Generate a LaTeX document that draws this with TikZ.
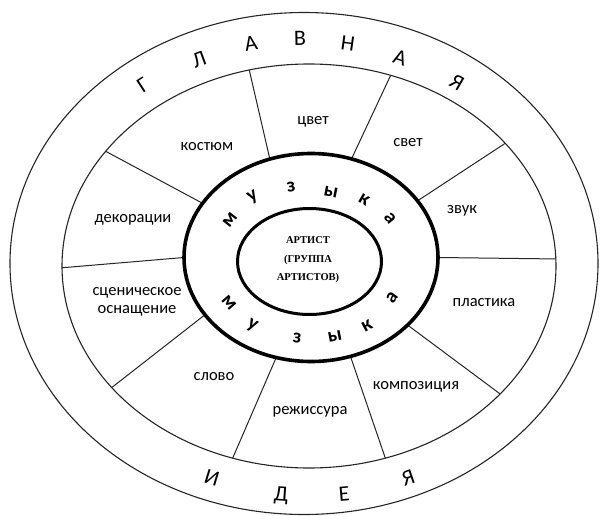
\documentclass[tikz,border=0pt]{standalone}
\usepackage{fontspec}
\setmainfont{Carlito}
\newfontfamily\timesfont{Liberation Serif}
\usetikzlibrary{calc}
\begin{document}
\begin{tikzpicture}[x=1pt,y=-1pt,
  thinring/.style={line width=1.1pt, draw=black!85},
  thickring/.style={line width=3.6pt},
  innerring/.style={line width=3pt},
  spoke/.style={line width=1pt, draw=black!85},
  lbl/.style={font=\fontsize{16.5}{18.5}\selectfont, inner sep=0pt, align=center},
  big/.style={font=\fontsize{22}{24}\selectfont, inner sep=0pt},
  mus/.style={font=\bfseries\fontsize{20}{21}\selectfont, inner sep=0pt},
  art/.style={font=\timesfont\bfseries\fontsize{10.5}{18.5}\selectfont, align=center, inner sep=0pt}]
\useasboundingbox (0,0) rectangle (600,516);
\fill[white] (0,0) rectangle (600,516);
\coordinate (Oc) at (304,263.5);
\coordinate (Mc) at (309,266);
\coordinate (Tc) at (311,257.5);
\coordinate (Ic) at (309.5,261.5);
\draw[thinring] (Oc) ellipse [x radius=294pt, y radius=251pt];
\draw[thinring] (Mc) ellipse [x radius=247pt, y radius=202pt];
\foreach \a/\b in {108.9/104, 71.4/70.7, 33/37.4, 0/2, -40.5/-39.3, -71.9/-72, -105.9/-108, -146.6/-143, 180/180.5, 148.6/145.4}
  \draw[spoke] ($(Tc)+(\a:127pt and 104pt)$) -- ($(Mc)+(\b:247pt and 202pt)$);
\draw[thickring, fill=white] (Tc) ellipse [x radius=127pt, y radius=104pt];
\draw[innerring] (Ic) ellipse [x radius=72pt, y radius=53pt];
% outer ring letters
\node[big, rotate=33]  (g1) at (143,85) {Г};
\node[big, rotate=20]  (g2) at (199,60) {Л};
\node[big, rotate=10]  (g3) at (251,43) {А};
\node[big, rotate=1]   (g4) at (300,38) {В};
\node[big, rotate=-8]  (g5) at (348,43) {Н};
\node[big, rotate=-18] (g6) at (400,58) {А};
\node[big, rotate=-30] (g7) at (457,82) {Я};
\node[big, rotate=-17] (i1) at (212,478) {И};
\node[big, rotate=-4]  (i2) at (281,496) {Д};
\node[big, rotate=5]   (i3) at (344,494) {Е};
\node[big, rotate=19]  (i4) at (408,478) {Я};
% sector labels
\node[lbl] (kost) at (207,147) {костюм};
\node[lbl] (cvet) at (313,122) {цвет};
\node[lbl] (svet) at (408,143) {свет};
\node[lbl] (zvuk) at (462,211) {звук};
\node[lbl] (plast) at (484,303) {пластика};
\node[lbl] (komp) at (416,387) {композиция};
\node[lbl] (rezh) at (310,412) {режиссура};
\node[lbl] (slovo) at (214,377) {слово};
\node[lbl] (scen) at (137,302) {сценическое\\оснащение};
\node[lbl] (dekor) at (133,220) {декорации};
% music ring
\node[mus, rotate=52]  (mt1) at (230,220) {м};
\node[mus, rotate=30]  (mt2) at (253,197) {у};
\node[mus, rotate=9]   (mt3) at (291,187) {з};
\node[mus, rotate=-11] (mt4) at (331,192) {ы};
\node[mus, rotate=-30] (mt5) at (364,200) {к};
\node[mus, rotate=-51] (mt6) at (390,218) {а};
\node[mus, rotate=-49] (mb1) at (229,303) {м};
\node[mus, rotate=-28] (mb2) at (252,326) {у};
\node[mus, rotate=-6]  (mb3) at (297,338) {з};
\node[mus, rotate=11]  (mb4) at (335,336) {ы};
\node[mus, rotate=28]  (mb5) at (367,326) {к};
\node[mus, rotate=53]  (mb6) at (392,298) {а};
% center
\node[art] (artist) at (308,260) {АРТИСТ\\(ГРУППА\\АРТИСТОВ)};
\end{tikzpicture}
\end{document}
